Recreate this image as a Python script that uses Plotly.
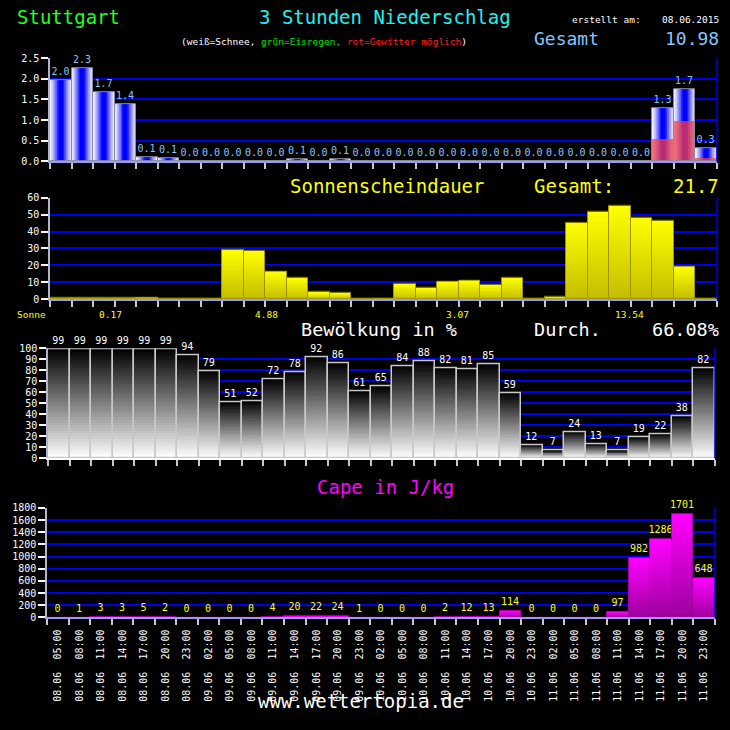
import plotly.graph_objects as go

# ---------------- data ----------------
dates = ["08.06", "08.06", "08.06", "08.06", "08.06", "08.06", "08.06",
         "09.06", "09.06", "09.06", "09.06", "09.06", "09.06", "09.06", "09.06",
         "10.06", "10.06", "10.06", "10.06", "10.06", "10.06", "10.06", "10.06",
         "11.06", "11.06", "11.06", "11.06", "11.06", "11.06", "11.06", "11.06"]
hours = ["05:00", "08:00", "11:00", "14:00", "17:00", "20:00", "23:00",
         "02:00", "05:00", "08:00", "11:00", "14:00", "17:00", "20:00", "23:00",
         "02:00", "05:00", "08:00", "11:00", "14:00", "17:00", "20:00", "23:00",
         "02:00", "05:00", "08:00", "11:00", "14:00", "17:00", "20:00", "23:00"]

precip = [1.96, 2.26, 1.68, 1.38, 0.10, 0.07, 0, 0, 0, 0, 0, 0.06, 0, 0.06, 0, 0,
          0, 0, 0, 0, 0, 0, 0, 0, 0, 0, 0, 0, 1.29, 1.74, 0.33]
thunder = [0, 0, 0, 0, 0, 0, 0, 0, 0, 0, 0, 0, 0, 0, 0, 0,
           0, 0, 0, 0, 0, 0, 0, 0, 0, 0, 0, 0, 0.55, 0.98, 0.07]
sunshine = [0.6, 0.6, 0.7, 0.7, 0.8, 0, 0, 0, 29.0, 28.4, 16.3, 12.4, 4.1, 3.7, 0, 0.4,
            8.9, 6.6, 10.3, 10.9, 8.3, 12.6, 0, 1.2, 45.0, 51.8, 55.5, 48.2, 46.2, 19.2, 0]
sun_day_totals = ["0.17", "4.88", "3.07", "13.54"]
clouds = [99, 99, 99, 99, 99, 99, 94, 79, 51, 52, 72, 78, 92, 86, 61, 65,
          84, 88, 82, 81, 85, 59, 12, 7, 24, 13, 7, 19, 22, 38, 82]
cape = [0, 1, 3, 3, 5, 2, 0, 0, 0, 0, 4, 20, 22, 24, 1,
        0, 0, 0, 2, 12, 13, 114, 0, 0, 0, 0, 97, 982, 1286, 1701, 648]

precip_total = "10.98"
sun_total = "21.7"
cloud_mean = "66.08%"
created = "08.06.2015"

idx = list(range(len(hours)))
tick_text = [f"{d}  {h}" for d, h in zip(dates, hours)]

FONT = "DejaVu Sans Mono"
W = H = 730


def hx(c):
    c = c.lstrip('#')
    return [int(c[i:i + 2], 16) for i in (0, 2, 4)]


def lerp(c1, c2, t):
    a, b = hx(c1), hx(c2)
    return "rgb(%d,%d,%d)" % tuple(round(a[i] + (b[i] - a[i]) * t) for i in range(3))


fig = go.Figure()


def hgrad(vals, xa, ya, c_edge, c_mid, n=14, gamma=1.3):
    for k in range(n):
        t = k / (n - 1)
        w = 1.0 - 0.8 * t
        fig.add_trace(go.Bar(x=idx, y=vals, width=w, xaxis=xa, yaxis=ya,
                             marker=dict(color=lerp(c_edge, c_mid, t ** gamma), line=dict(width=0)),
                             hoverinfo="skip", showlegend=False))


def vgrad(vals, xa, ya, c_bottom, c_top, n=40):
    for k in range(n):
        t = (k + 0.5) / n
        fig.add_trace(go.Bar(x=idx, y=[v - v * k / n for v in vals],
                             base=[v * k / n for v in vals], width=1.0,
                             xaxis=xa, yaxis=ya,
                             marker=dict(color=lerp(c_bottom, c_top, t), line=dict(width=0)),
                             hoverinfo="skip", showlegend=False))


def outline(vals, xa, ya, col, lw=1, label_col=None, tmpl=None):
    kw = {}
    if label_col:
        kw = dict(texttemplate=tmpl, textposition="outside", constraintext="none",
                  cliponaxis=False, textangle=0,
                  outsidetextfont=dict(family=FONT, size=10, color=label_col))
    fig.add_trace(go.Bar(x=idx, y=vals, width=1.0, xaxis=xa, yaxis=ya,
                         marker=dict(color="rgba(0,0,0,0)", line=dict(color=col, width=lw)),
                         hoverinfo="skip", showlegend=False, **kw))


# precipitation
hgrad(precip, "x", "y", "#ececff", "#0000ff")
hgrad(thunder, "x", "y", "#f0707c", "#b82c74")
outline(precip, "x", "y", "#8a8a9a", 1, "#88c4ff", "%{y:.1f}")

# sunshine
vgrad(sunshine, "x2", "y2", "#c4bc00", "#ffff00")
outline(sunshine, "x2", "y2", "#9c9400")

# clouds
vgrad(clouds, "x3", "y3", "#ffffff", "#000000")
outline(clouds, "x3", "y3", "#c8c8c8", 1.5, "#ffffff", "%{y}")

# cape
vgrad(cape, "x4", "y4", "#9c009c", "#ff00ff")
outline(cape, "x4", "y4", "#a000a0", 1, "#ffff00", "%{y}")


def py(p):
    return 1 - p / H


def px(p):
    return p / W


panels = [
    ("", 50, 717, 53, 158, [0, 2.5], 0.5, ".1f", "#9a9aee"),
    ("2", 50, 717, 195, 298, [0, 60], 10, "", "#9a9aee"),
    ("3", 48, 715, 348, 459.7, [0, 100], 10, "", "#ffffff"),
    ("4", 47, 715, 510.3, 621.7, [0, 1800], 200, "", "#9a9aee"),
]

boundaries = [i - 0.5 for i in range(len(idx) + 1)]
shapes = []
for s, x0, x1, yt, yb, rng, dt, fmt, bcol in panels:
    xa = dict(domain=[px(x0), px(x1)], range=[-0.5, len(idx) - 0.5], anchor="y" + s,
              showgrid=False, zeroline=False, showline=True, linecolor=bcol, linewidth=2,
              tickmode="array", tickvals=idx, ticktext=tick_text if s == "4" else [""] * len(idx),
              ticks="", showticklabels=(s == "4"),
              minor=dict(tickmode="array", tickvals=boundaries, ticks="outside",
                         ticklen=6, tickwidth=2, tickcolor="#c8c8c8", showgrid=False),
              fixedrange=True)
    if s == "4":
        xa.update(tickangle=-90, tickfont=dict(family=FONT, size=10, color="white"),
                  ticklabelstandoff=6)
    ya = dict(domain=[py(yb), py(yt)], range=rng, anchor="x" + s, dtick=dt, tick0=0,
              showgrid=True, gridcolor="#0000e6", gridwidth=1.5, zeroline=False,
              showline=True, linecolor="#b4b4cc", linewidth=1.5,
              ticks="outside", ticklen=7, tickwidth=1.5, tickcolor="white",
              tickfont=dict(family=FONT, size=10, color="white"), fixedrange=True)
    if fmt:
        ya["tickformat"] = fmt
    fig.update_layout(**{"xaxis" + s: xa, "yaxis" + s: ya})
    shapes.append(dict(type="line", xref=("x" + s) + " domain", yref=("y" + s) + " domain",
                       x0=1, x1=1, y0=0, y1=1, line=dict(color="#0000e6", width=1.5)))


def ann(text, x, y, color, size, xanchor="left"):
    return dict(text=text, x=px(x), y=py(y), xref="paper", yref="paper",
                xanchor=xanchor, yanchor="middle", showarrow=False, borderpad=0,
                font=dict(family=FONT, size=size, color=color))


legend_html = ('<span style="color:#ffffff">(weiß=Schnee, </span>'
               '<span style="color:#00e000">grün=Eisregen, </span>'
               '<span style="color:#ff2020">rot=Gewitter möglich</span>'
               '<span style="color:#ffffff">)</span>')

annotations = [
    ann("Stuttgart", 16, 11, "#20ff20", 19),
    ann("3 Stunden Niederschlag", 385, 11, "#20f0f0", 19, "center"),
    ann(legend_html, 324, 36, "#ffffff", 9.5, "center"),
    ann("erstellt am:", 571, 14, "#ffffff", 9.5),
    ann(created, 720, 14, "#ffffff", 9.5, "right"),
    ann("Gesamt", 533, 33, "#88c4ff", 18),
    ann(precip_total, 720, 33, "#88c4ff", 18, "right"),
    ann("Sonnenscheindauer", 289, 183, "#ffff00", 19),
    ann("Gesamt:", 533, 183, "#ffff00", 19),
    ann(sun_total, 720, 183, "#ffff00", 19, "right"),
    ann("Sonne", 16, 314, "#ffff00", 9.5),
    ann("Bewölkung in %", 300, 329, "#ffffff", 18.5),
    ann("Durch.", 533, 329, "#ffffff", 18.5),
    ann(cloud_mean, 720, 329, "#ffffff", 18.5, "right"),
    ann("Cape in J/kg", 385, 489, "#ff00ff", 19, "center"),
    ann("www.wettertopia.de", 361, 707, "#ffffff", 19, "center"),
]
for pos, txt in zip([110, 266, 457, 629], sun_day_totals):
    annotations.append(ann(txt, pos, 314, "#ffff00", 9.5, "center"))

fig.update_layout(width=W, height=H, margin=dict(l=0, r=0, t=0, b=0),
                  paper_bgcolor="black", plot_bgcolor="black",
                  barmode="overlay", bargap=0, showlegend=False,
                  font=dict(family=FONT, color="white", size=10),
                  shapes=shapes, annotations=annotations)

fig.write_html("out.html")
